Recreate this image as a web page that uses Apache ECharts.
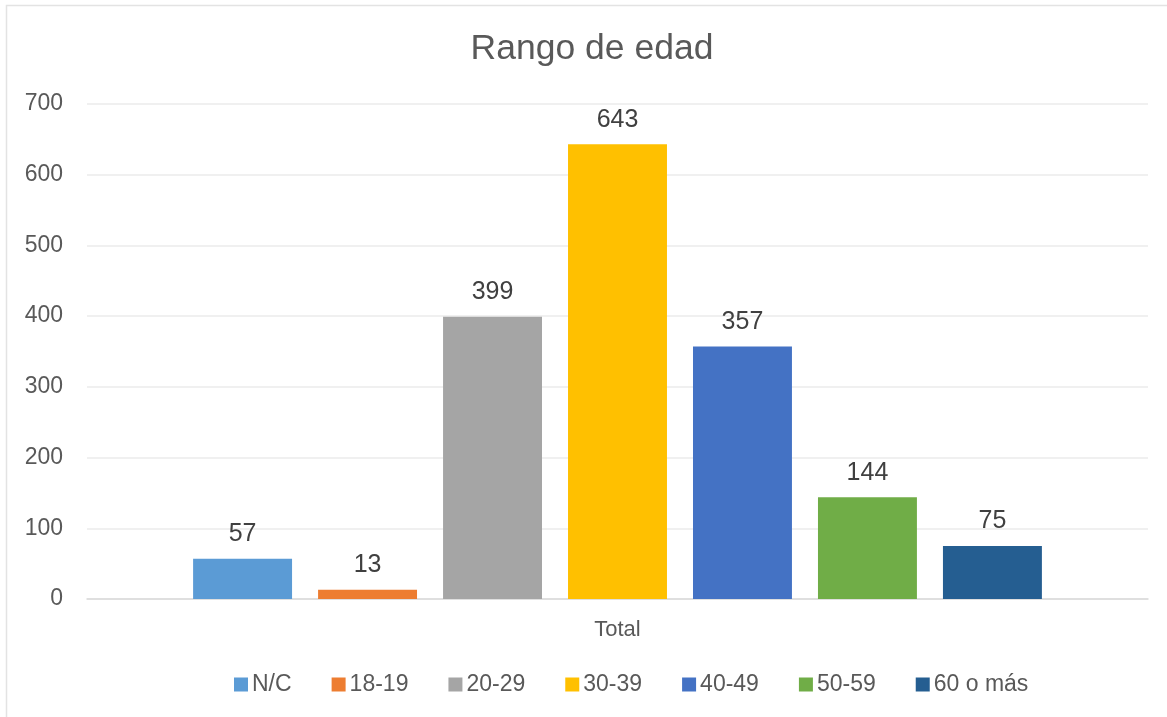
<!DOCTYPE html>
<html>
<head>
<meta charset="utf-8">
<script src="https://cdn.jsdelivr.net/npm/echarts@6/dist/echarts.min.js"></script>
<style>
html,body{margin:0;padding:0;background:#fff;}
#c{width:1167px;height:717px;}
</style>
</head>
<body>
<div id="c"></div>
<script>
var titleText = 'Rango de edad';
var categories = ['Total'];
var seriesNames = ['N/C', '18-19', '20-29', '30-39', '40-49', '50-59', '60 o más'];
var seriesValues = [57, 13, 399, 643, 357, 144, 75];
var seriesColors = ['#5B9BD5', '#ED7D31', '#A5A5A5', '#FFC000', '#4472C4', '#70AD47', '#255E91'];
var yMin = 0, yMax = 700, yInterval = 100;

var font = '"Liberation Sans", Arial, sans-serif';
var chart = echarts.init(document.getElementById('c'), null, {renderer: 'canvas'});

var series = seriesNames.map(function (name, i) {
  return {
    name: name,
    type: 'bar',
    data: [seriesValues[i]],
    itemStyle: {color: seriesColors[i]},
    barGap: '26.3%',
    barCategoryGap: '20%',
    label: {
      show: true,
      position: 'top',
      distance: 12,
      color: '#404040',
      fontFamily: font,
      fontSize: 25
    }
  };
});

chart.setOption({
  animation: false,
  backgroundColor: '#fff',
  graphic: [{
    type: 'rect',
    shape: {x: 6.5, y: 5.5, width: 1300, height: 900},
    style: {fill: 'none', stroke: '#E3E3E3', lineWidth: 1.5},
    silent: true,
    z: -10
  }],
  title: {
    text: titleText,
    left: 587,
    textAlign: 'center',
    top: 26,
    textStyle: {color: '#595959', fontFamily: font, fontSize: 35.5, fontWeight: 'normal'}
  },
  legend: {
    data: seriesNames,
    left: 229,
    top: 668,
    itemWidth: 14,
    itemHeight: 14,
    itemGap: 40,
    icon: 'rect',
    textStyle: {color: '#595959', fontFamily: font, fontSize: 23, padding: [0, 0, 0, -1]}
  },
  grid: {left: 87, right: 19, top: 104, bottom: 118, containLabel: false},
  xAxis: {
    type: 'category',
    data: categories,
    axisLine: {show: true, lineStyle: {color: '#D9D9D9', width: 1.5}},
    axisTick: {show: false},
    axisLabel: {color: '#595959', fontFamily: font, fontSize: 22, margin: 20}
  },
  yAxis: {
    type: 'value',
    min: yMin,
    max: yMax,
    interval: yInterval,
    axisLine: {show: false},
    axisTick: {show: false},
    splitLine: {lineStyle: {color: '#EBEBEB', width: 1.5}},
    axisLabel: {color: '#595959', fontFamily: font, fontSize: 23, margin: 24}
  },
  series: series
});
</script>
</body>
</html>
